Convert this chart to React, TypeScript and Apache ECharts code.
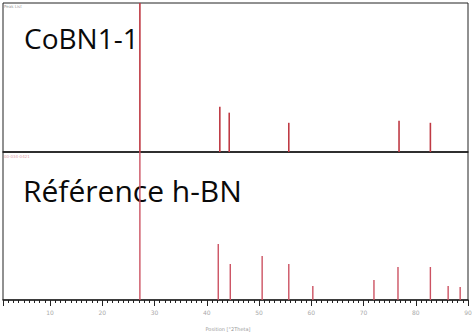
import React, { useEffect, useRef } from "react";
import * as echarts from "echarts";

// 2θ positions (degrees) and relative heights (% of panel)
const samplePos = [27.2, 42.5, 44.3, 55.7, 76.8, 82.8];
const sampleInt = [100, 30.4, 26.4, 19.6, 20.9, 19.6];

const refPos = [27.2, 42.2, 44.5, 50.6, 55.7, 60.3, 72.0, 76.6, 82.8, 86.2, 88.5];
const refInt = [100, 37.8, 24.3, 29.7, 24.3, 9.5, 13.5, 22.3, 22.3, 9.5, 8.8];

const topLabel = "CoBN1-1";
const bottomLabel = "Référence h-BN";
const axisTitle = "Position [°2Theta]";

export default function App() {
  const ref = useRef<HTMLDivElement>(null);
  useEffect(() => {
    if (!ref.current) return;
    const chart = echarts.init(ref.current, undefined, { renderer: "svg" });
    const mk = (p: number[], v: number[]) => p.map((x, i) => [x, v[i]]);
    const xCommon = {
      type: "value",
      min: 1,
      max: 90,
      splitNumber: 9,
      splitLine: { show: false },
    };
    chart.setOption({
      animation: false,
      backgroundColor: "#fff",
      grid: [
        { left: 3, width: 465, top: 3, height: 149, show: true, borderColor: "#222", borderWidth: 1 },
        { left: 3, width: 465, top: 152, height: 148, show: true, borderColor: "#222", borderWidth: 1 },
      ],
      xAxis: [
        {
          ...xCommon,
          gridIndex: 0,
          axisLine: { show: true, lineStyle: { color: "#222", width: 1.5 } },
          axisTick: { show: false },
          axisLabel: { show: false },
        },
        {
          ...xCommon,
          gridIndex: 1,
          axisLine: { show: true, onZero: false, lineStyle: { color: "#222", width: 1.5 } },
          axisTick: { show: true, inside: false, length: 6, lineStyle: { color: "#222" } },
          minorTick: { show: true, splitNumber: 10, length: 3, lineStyle: { color: "#222" } },
          axisLabel: { show: true, showMinLabel: false, fontSize: 6, color: "#aaa", margin: 9, fontFamily: "DejaVu Sans" },
        },
      ],
      yAxis: [
        { type: "value", gridIndex: 0, min: 0, max: 100, show: false },
        { type: "value", gridIndex: 1, min: 0, max: 100, show: false },
      ],
      series: [
        {
          type: "bar",
          xAxisIndex: 0,
          yAxisIndex: 0,
          barWidth: 1.6,
          itemStyle: { color: "#bf3a44" },
          data: mk(samplePos, sampleInt),
        },
        {
          type: "bar",
          xAxisIndex: 1,
          yAxisIndex: 1,
          barWidth: 1.4,
          itemStyle: { color: "#cc5262" },
          data: mk(refPos, refInt),
        },
      ],
      graphic: [
        { type: "text", left: 4, top: 4, style: { text: "Peak List", fontSize: 4, fill: "#999", fontFamily: "DejaVu Sans" } },
        { type: "text", left: 4, top: 154, style: { text: "00-034-0421", fontSize: 4, fill: "#e0a0a8", fontFamily: "DejaVu Sans" } },
        {
          type: "text",
          x: 228,
          y: 329,
          style: { text: axisTitle, fontSize: 5, fill: "#999", fontFamily: "DejaVu Sans", align: "center", verticalAlign: "middle" },
        },
        {
          type: "text",
          x: 24,
          y: 38,
          style: { text: topLabel, fontSize: 28, fill: "#0a0a0a", fontFamily: "Open Sans", verticalAlign: "middle" },
        },
        {
          type: "text",
          x: 23,
          y: 190,
          style: { text: bottomLabel, fontSize: 30, fill: "#0a0a0a", fontFamily: "Open Sans", verticalAlign: "middle" },
        },
      ],
    });
    return () => chart.dispose();
  }, []);
  return <div ref={ref} style={{ width: 476, height: 333, position: "absolute", left: 0, top: 0 }} />;
}
